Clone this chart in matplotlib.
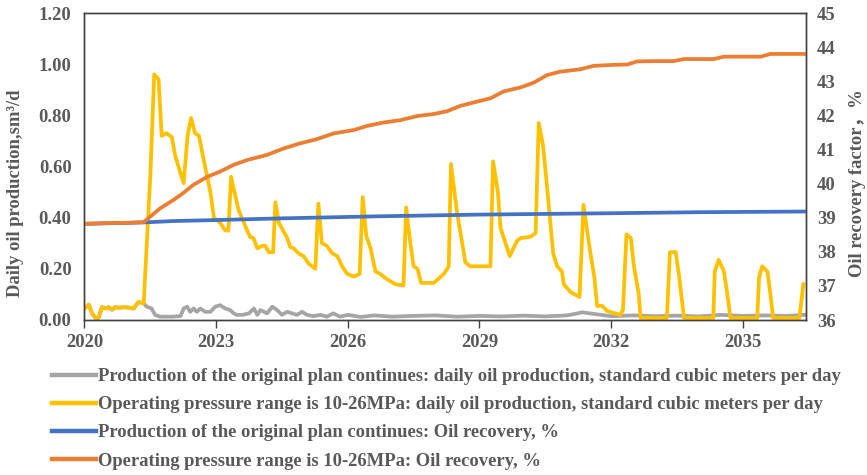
import matplotlib
matplotlib.use("Agg")
import matplotlib.pyplot as plt
from matplotlib.ticker import FixedLocator, FormatStrFormatter

# ---------------- data ----------------
# years as decimal years; daily oil production in sm3/d (left axis)
yellow_year = [2020.00, 2020.10, 2020.17, 2020.25, 2020.32, 2020.40, 2020.48, 2020.55, 2020.63, 2020.70,
               2020.80, 2020.90, 2021.04, 2021.12, 2021.23, 2021.35, 2021.50, 2021.59, 2021.69, 2021.76,
               2021.87, 2021.99, 2022.07, 2022.26, 2022.35, 2022.43, 2022.52, 2022.61, 2022.70, 2022.87,
               2022.95, 2023.09, 2023.21, 2023.28, 2023.34, 2023.51, 2023.71, 2023.77, 2023.85, 2023.94,
               2024.05, 2024.12, 2024.20, 2024.30, 2024.35, 2024.43, 2024.62, 2024.69, 2024.77, 2024.88,
               2024.99, 2025.11, 2025.26, 2025.33, 2025.41, 2025.52, 2025.65, 2025.76, 2025.87, 2025.99,
               2026.14, 2026.27, 2026.34, 2026.42, 2026.52, 2026.63, 2026.74, 2026.89, 2027.08, 2027.27,
               2027.33, 2027.41, 2027.50, 2027.59, 2027.67, 2027.96, 2028.19, 2028.30, 2028.35, 2028.49,
               2028.68, 2028.79, 2029.25, 2029.31, 2029.42, 2029.48, 2029.69, 2029.86, 2029.94, 2030.16,
               2030.28, 2030.35, 2030.45, 2030.54, 2030.68, 2030.77, 2030.88, 2030.92, 2031.07, 2031.28,
               2031.37, 2031.46, 2031.53, 2031.62, 2031.68, 2031.80, 2031.91, 2032.21, 2032.27, 2032.35,
               2032.45, 2032.52, 2032.63, 2032.67, 2033.27, 2033.34, 2033.47, 2033.55, 2033.66, 2034.33,
               2034.36, 2034.45, 2034.57, 2034.64, 2034.72, 2035.33, 2035.37, 2035.44, 2035.56, 2035.63,
               2035.69, 2036.29, 2036.38]
yellow_prod = [0.045, 0.060, 0.027, 0.008, 0.008, 0.050, 0.045, 0.050, 0.040, 0.050,
               0.048, 0.050, 0.048, 0.045, 0.070, 0.065, 0.560, 0.960, 0.940, 0.720,
               0.730, 0.715, 0.640, 0.535, 0.720, 0.790, 0.730, 0.720, 0.640, 0.500,
               0.400, 0.380, 0.350, 0.350, 0.560, 0.430, 0.350, 0.325, 0.320, 0.280,
               0.290, 0.290, 0.265, 0.265, 0.460, 0.380, 0.320, 0.285, 0.280, 0.260,
               0.250, 0.220, 0.200, 0.455, 0.300, 0.290, 0.260, 0.250, 0.210, 0.180,
               0.170, 0.180, 0.480, 0.330, 0.280, 0.190, 0.180, 0.160, 0.140, 0.135,
               0.440, 0.320, 0.210, 0.200, 0.145, 0.145, 0.180, 0.210, 0.610, 0.420,
               0.225, 0.210, 0.210, 0.620, 0.500, 0.360, 0.250, 0.310, 0.320, 0.325,
               0.340, 0.770, 0.680, 0.520, 0.260, 0.210, 0.190, 0.140, 0.110, 0.090,
               0.450, 0.340, 0.260, 0.165, 0.055, 0.055, 0.035, 0.020, 0.040, 0.335,
               0.320, 0.210, 0.100, 0.008, 0.008, 0.265, 0.265, 0.170, 0.008, 0.008,
               0.190, 0.235, 0.190, 0.110, 0.008, 0.008, 0.165, 0.210, 0.190, 0.100,
               0.008, 0.008, 0.140]

grey_year = [2020.00, 2020.10, 2020.17, 2020.25, 2020.32, 2020.40, 2020.48, 2020.55, 2020.63, 2020.70,
             2020.80, 2020.90, 2021.04, 2021.12, 2021.23, 2021.35, 2021.42, 2021.53, 2021.61, 2021.72,
             2022.00, 2022.19, 2022.26, 2022.34, 2022.41, 2022.49, 2022.56, 2022.64, 2022.75, 2022.87,
             2022.98, 2023.09, 2023.21, 2023.32, 2023.40, 2023.47, 2023.60, 2023.75, 2023.86, 2023.94,
             2024.01, 2024.16, 2024.28, 2024.39, 2024.50, 2024.62, 2024.73, 2024.84, 2024.96, 2025.07,
             2025.22, 2025.37, 2025.52, 2025.67, 2025.82, 2026.00, 2026.30, 2026.60, 2027.00, 2027.50,
             2028.00, 2028.50, 2029.00, 2029.50, 2030.00, 2030.50, 2031.00, 2031.35, 2031.55, 2032.00,
             2032.50, 2033.00, 2033.50, 2034.00, 2034.50, 2035.00, 2035.50, 2036.00, 2036.40]
grey_prod = [0.045, 0.060, 0.027, 0.008, 0.008, 0.050, 0.045, 0.050, 0.040, 0.050,
             0.048, 0.050, 0.048, 0.045, 0.070, 0.065, 0.052, 0.045, 0.020, 0.013,
             0.013, 0.015, 0.045, 0.052, 0.032, 0.045, 0.032, 0.045, 0.032, 0.032,
             0.052, 0.058, 0.045, 0.039, 0.026, 0.020, 0.020, 0.026, 0.045, 0.020,
             0.039, 0.026, 0.052, 0.039, 0.020, 0.032, 0.026, 0.020, 0.032, 0.020,
             0.015, 0.020, 0.013, 0.026, 0.013, 0.020, 0.012, 0.018, 0.013, 0.016,
             0.018, 0.013, 0.016, 0.014, 0.017, 0.014, 0.018, 0.030, 0.025, 0.015,
             0.018, 0.015, 0.017, 0.014, 0.020, 0.016, 0.018, 0.016, 0.020]

# oil recovery factor, % (right axis)
blue_year = [2020.00, 2021.35, 2022.00, 2023.00, 2024.50, 2026.70, 2029.00, 2032.00, 2034.00, 2036.42]
blue_rec = [38.82, 38.86, 38.90, 38.93, 38.98, 39.04, 39.09, 39.13, 39.16, 39.18]

orange_year = [2020.00, 2020.50, 2021.00, 2021.35, 2021.50, 2021.72, 2022.03, 2022.25, 2022.48, 2022.80,
               2023.09, 2023.40, 2023.71, 2024.16, 2024.54, 2024.92, 2025.29, 2025.68, 2026.14, 2026.44,
               2026.82, 2027.20, 2027.59, 2027.96, 2028.26, 2028.57, 2028.94, 2029.25, 2029.55, 2029.94,
               2030.24, 2030.54, 2030.84, 2031.30, 2031.60, 2032.06, 2032.37, 2032.59, 2032.97, 2033.43,
               2033.66, 2034.34, 2034.57, 2035.41, 2035.63, 2036.42]
orange_rec = [38.82, 38.84, 38.85, 38.87, 39.03, 39.27, 39.52, 39.72, 39.96, 40.20,
              40.35, 40.55, 40.69, 40.84, 41.03, 41.18, 41.30, 41.47, 41.57, 41.69,
              41.79, 41.86, 41.98, 42.04, 42.12, 42.28, 42.40, 42.50, 42.70, 42.82,
              42.96, 43.18, 43.28, 43.35, 43.45, 43.48, 43.49, 43.58, 43.59, 43.59,
              43.65, 43.65, 43.72, 43.72, 43.80, 43.80]

x_ticks = [2020, 2023, 2026, 2029, 2032, 2035]
left_ticks = [0.0, 0.2, 0.4, 0.6, 0.8, 1.0, 1.2]
right_ticks = [36, 37, 38, 39, 40, 41, 42, 43, 44, 45]

labels = [
    "Production of the original plan continues: daily oil production, standard cubic meters per day",
    "Operating pressure range is 10-26MPa: daily oil production, standard cubic meters per day",
    "Production of the original plan continues: Oil recovery, %",
    "Operating pressure range is 10-26MPa: Oil recovery, %",
]

# ---------------- styling ----------------
SERIF = ["Liberation Serif", "DejaVu Serif"]
TXT = "#595959"
SPINE = "#404040"
C_GREY, C_YELLOW, C_BLUE, C_ORANGE = "#A5A5A5", "#FFC000", "#4472C4", "#ED7D31"
LW = 2.7
FS = 13.4
LEG_FS = 13.4

plt.rcParams["font.family"] = SERIF
plt.rcParams["font.weight"] = "bold"

fig = plt.figure(figsize=(8.67, 4.75), dpi=100)
ax = fig.add_axes([84 / 867, 1 - 320 / 475, (806 - 84) / 867, (320 - 13) / 475])
ax2 = ax.twinx()

l1, = ax.plot(grey_year, grey_prod, color=C_GREY, lw=LW, solid_joinstyle="round")
l2, = ax.plot(yellow_year, yellow_prod, color=C_YELLOW, lw=LW, solid_joinstyle="round")
l3, = ax2.plot(blue_year, blue_rec, color=C_BLUE, lw=LW, solid_joinstyle="round")
l4, = ax2.plot(orange_year, orange_rec, color=C_ORANGE, lw=LW, solid_joinstyle="round")

ax.set_xlim(2019.99, 2036.44)
ax.set_ylim(0, 1.2)
ax2.set_ylim(36, 45)

ax.xaxis.set_major_locator(FixedLocator(x_ticks))
ax.set_xticklabels([str(t) for t in x_ticks])
ax.yaxis.set_major_locator(FixedLocator(left_ticks))
ax.yaxis.set_major_formatter(FormatStrFormatter("%.2f"))
ax2.yaxis.set_major_locator(FixedLocator(right_ticks))

ax.tick_params(axis="x", direction="out", length=6, width=1, color=SPINE,
               labelsize=FS, labelcolor=TXT, pad=4)
ax.tick_params(axis="y", length=0, labelsize=FS, labelcolor=TXT, pad=9)
ax2.tick_params(axis="y", length=0, labelsize=FS, labelcolor=TXT, pad=8)
for a in (ax, ax2):
    for lab in a.get_xticklabels() + a.get_yticklabels():
        lab.set_fontweight("bold")
    for s in a.spines.values():
        s.set_color(SPINE)
        s.set_linewidth(1.0)

fig.text(16 / 867, 1 - 193 / 475, "Daily oil production,sm³/d", rotation=90,
         ha="center", va="center", fontsize=FS, color=TXT, fontweight="bold")
fig.text(857 / 867, 1 - 183 / 475, "Oil recovery factor，%", rotation=90,
         ha="center", va="center", fontsize=FS, color=TXT, fontweight="bold",
         family=["Liberation Serif", "Noto Sans CJK SC"])

leg = fig.legend([l1, l2, l3, l4], labels, loc="upper left",
                 bbox_to_anchor=(52 / 867, 1 - 368 / 475), frameon=False,
                 fontsize=LEG_FS, handlelength=2.35, handletextpad=0.12,
                 labelspacing=0.6, borderpad=0, borderaxespad=0)
for t in leg.get_texts():
    t.set_color(TXT)
    t.set_fontweight("bold")
for h in leg.get_lines():
    h.set_linewidth(3.2)

fig.savefig("out.png", dpi=100)
